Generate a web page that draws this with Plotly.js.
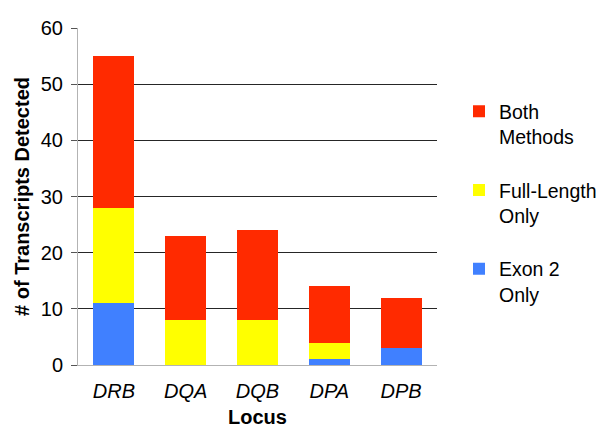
<!DOCTYPE html>
<html>
<head>
<meta charset="utf-8">
<script src="https://cdn.plot.ly/plotly-3.0.1.min.js"></script>
<style>
  html, body { margin: 0; padding: 0; background: #fff; }
  #chart { width: 600px; height: 441px; }
</style>
</head>
<body>
<div id="chart"></div>
<script>
// loci on the x axis
var loci = ['DRB', 'DQA', 'DQB', 'DPA', 'DPB'];

// transcripts per locus, by detection method
var exon2Only = [11, 0, 0, 1, 3];
var fullLengthOnly = [17, 8, 8, 3, 0];
var bothMethods = [27, 15, 16, 10, 9];

var yTicks = [0, 10, 20, 30, 40, 50, 60];

var font = 'Liberation Sans, Arial, Helvetica, sans-serif';

function barTrace(name, values, color, group, rank) {
    return {
        type: 'bar',
        name: name,
        x: loci.map(function(l) { return '<i>' + l + '</i>'; }),
        y: values,
        legendgroup: group,
        legendrank: rank,
        marker: { color: color, line: { width: 0 } },
        hoverinfo: 'x+y+name'
    };
}

var data = [
    barTrace('Exon 2<br>Only', exon2Only, '#4080ff', 'c', 3),
    barTrace('Full-Length<br>Only', fullLengthOnly, '#ffff00', 'b', 2),
    barTrace('Both<br>Methods', bothMethods, '#ff2a00', 'a', 1)
];

var layout = {
    width: 600,
    height: 441,
    barmode: 'stack',
    bargap: 0.43,
    paper_bgcolor: '#fff',
    plot_bgcolor: '#fff',
    font: { family: font, size: 20, color: '#000' },
    margin: { l: 78, r: 163, t: 28, b: 76, autoexpand: false },
    xaxis: {
        showline: true,
        linecolor: '#b3b3b3',
        linewidth: 1,
        ticks: '',
        ticklabelstandoff: 8,
        tickfont: { size: 20 },
        title: { text: '<b>Locus</b>', font: { size: 20 }, standoff: 8 },
        fixedrange: true
    },
    yaxis: {
        range: [0, 60],
        tickvals: yTicks,
        showgrid: true,
        gridcolor: '#262626',
        gridwidth: 1,
        zeroline: false,
        showline: true,
        linecolor: '#b3b3b3',
        linewidth: 1,
        ticks: 'outside',
        ticklen: 6,
        tickcolor: '#555',
        ticklabelstandoff: 4,
        tickfont: { size: 20 },
        title: { text: '<b># of Transcripts Detected</b>', font: { size: 20 }, standoff: 5 },
        fixedrange: true
    },
    showlegend: true,
    legend: {
        xref: 'container',
        yref: 'container',
        x: 0.765,
        xanchor: 'left',
        y: 0.791,
        yanchor: 'top',
        traceorder: 'grouped',
        tracegroupgap: 25,
        valign: 'top',
        font: { size: 19.5 },
        itemwidth: 30,
        bgcolor: 'rgba(0,0,0,0)'
    }
};

Plotly.newPlot('chart', data, layout, { displayModeBar: false, staticPlot: true });
</script>
</body>
</html>
